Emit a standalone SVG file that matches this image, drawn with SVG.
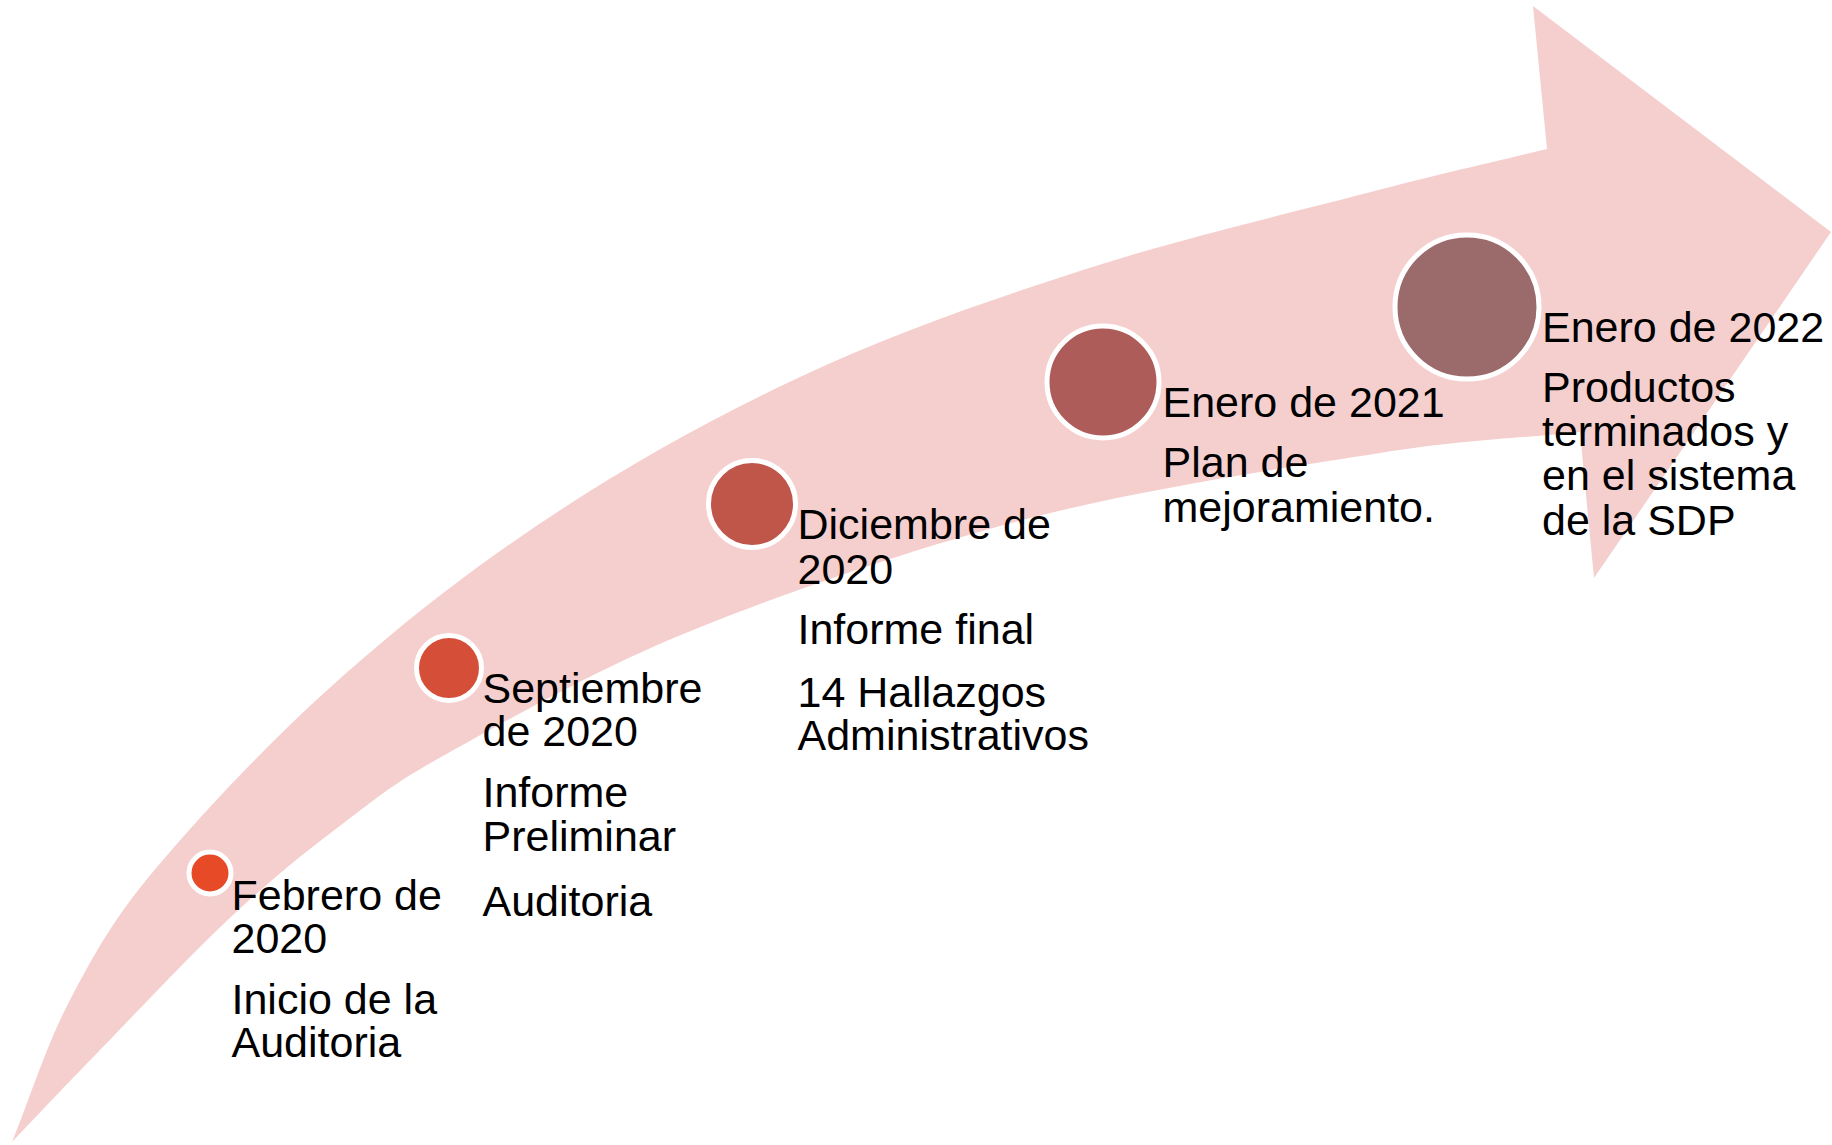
<svg xmlns="http://www.w3.org/2000/svg" width="1832" height="1145" viewBox="0 0 1832 1145">
<style>
.lbl{font-family:"Liberation Sans",Arial,sans-serif;font-size:43px;fill:#000}
.dot{stroke:#fff;stroke-width:5}
</style>
<rect width="1832" height="1145" fill="#fff"/>
<g id="arrow">
<path fill="#F5CFCD" d="M12,1142 C41.3,1111.3 63.2,1087.8 100,1050 C136.8,1012.2 192.2,953 233,915 C273.8,877 308.8,849.2 345,822 C381.2,794.8 392,784 450,752 C508,720 596.3,669 693,630 C789.7,591 915.5,547.5 1030,518 C1144.5,488.5 1288.3,467.3 1380,453 C1471.7,438.7 1513.3,439 1580,432 L1594,578 L1831,232 L1533,6 L1547,149 C1487,163.7 1444.3,172.8 1367,193 C1289.7,213.2 1177.5,239.3 1083,270 C988.5,300.7 897.2,331.2 800,377 C535,501.6 329,664.2 157,867 C113.2,918.7 94.2,954.2 70,1000 C45.8,1045.8 31.3,1094.7 12,1142 Z"/>
</g>
<g id="connectors"></g>
<g id="node1">
<circle class="dot" cx="210" cy="873" r="21" fill="#E64A27" stroke-width="4.5"/>
<text class="lbl" x="231.5" y="909.5">Febrero de</text>
<text class="lbl" x="231.5" y="953">2020</text>
<text class="lbl" x="231.5" y="1013.5">Inicio de la</text>
<text class="lbl" x="231.5" y="1057">Auditoria</text>
</g>
<g id="node2">
<circle class="dot" cx="449" cy="668" r="32.5" fill="#D44E38"/>
<text class="lbl" x="482.5" y="703">Septiembre</text>
<text class="lbl" x="482.5" y="746">de 2020</text>
<text class="lbl" x="482.5" y="807">Informe</text>
<text class="lbl" x="482.5" y="851">Preliminar</text>
<text class="lbl" x="482.5" y="916">Auditoria</text>
</g>
<g id="node3">
<circle class="dot" cx="752" cy="504" r="43.5" fill="#C0554A"/>
<text class="lbl" x="797.5" y="539">Diciembre de</text>
<text class="lbl" x="797.5" y="583.5">2020</text>
<text class="lbl" x="797.5" y="644">Informe final</text>
<text class="lbl" x="797.5" y="706.5">14 Hallazgos</text>
<text class="lbl" x="797.5" y="750">Administrativos</text>
</g>
<g id="node4">
<circle class="dot" cx="1103" cy="382" r="56" fill="#AE5C59"/>
<text class="lbl" x="1162.5" y="416.7">Enero de 2021</text>
<text class="lbl" x="1162.5" y="476.7">Plan de</text>
<text class="lbl" x="1162.5" y="521.5">mejoramiento.</text>
</g>
<g id="node5">
<circle class="dot" cx="1467" cy="307" r="72" fill="#9B6A6B"/>
<text class="lbl" x="1542" y="341.7">Enero de 2022</text>
<text class="lbl" x="1542" y="401.7">Productos</text>
<text class="lbl" x="1542" y="446">terminados y</text>
<text class="lbl" x="1542" y="490">en el sistema</text>
<text class="lbl" x="1542" y="535">de la SDP</text>
</g>
</svg>
